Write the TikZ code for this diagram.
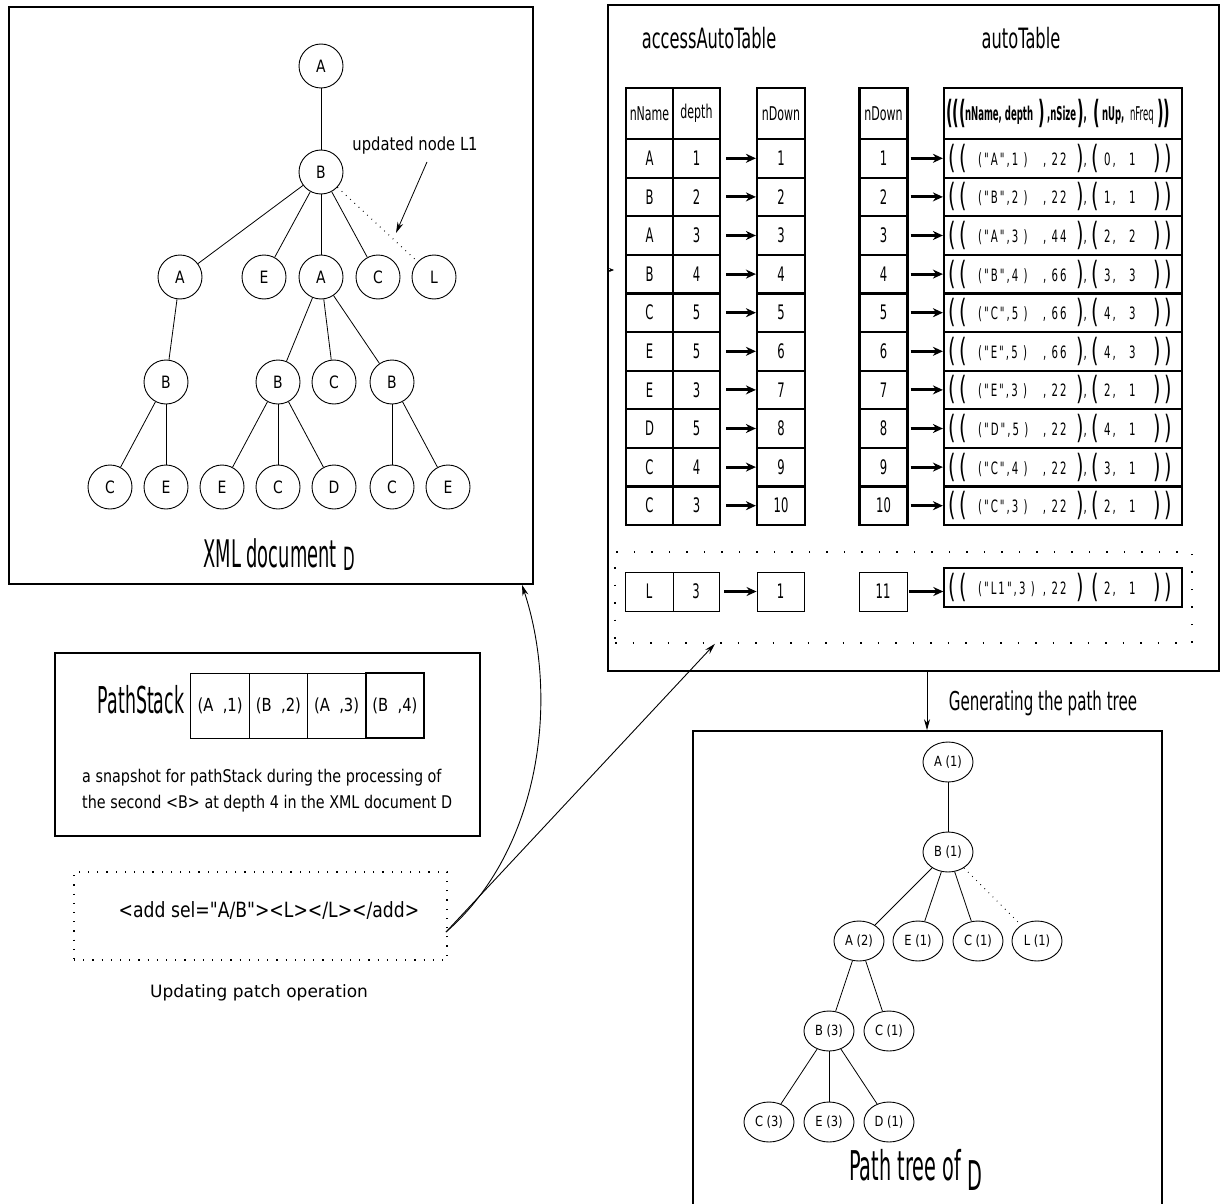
\documentclass[tikz,border=0pt]{standalone}
\usepackage{fontspec}
\setmainfont{DejaVu Sans}
\newfontfamily\cond[FakeStretch=0.82]{DejaVu Sans}
\newfontfamily\narr[FakeStretch=0.58]{DejaVu Sans}
\newfontfamily\tabf[FakeStretch=0.6,LetterSpace=12]{DejaVu Sans}
\newfontfamily\hdrf[FakeStretch=0.45]{DejaVu Sans}
\newfontfamily\vnarr[FakeStretch=0.47]{DejaVu Sans}
\usetikzlibrary{arrows.meta,shapes.geometric}
\newcommand\myfs[1]{\fontsize{#1}{#1}\selectfont}
\newcommand\atp[2]{\makebox[0pt][l]{\hspace*{#1pt}#2}}
\newcommand\bp[1]{\raisebox{-3pt}{\myfs{32}#1}}
\newcommand\atent[6]{\hbox to 236pt{\atp{3}{\bp{((}}\atp{33}{("#1",#2 )}\atp{98}{, #3}\atp{131}{\bp{)}#6}\atp{146}{\bp{(}}\atp{159}{#4,}\atp{184}{#5}\atp{208}{\bp{))}}\hfil}}
\newcommand\athead{\hbox to 236pt{\bfseries\atp{1}{\bp{(((}}\atp{20}{nName, depth}\atp{93}{\bp{)}}\atp{102}{,nSize}\atp{132}{\bp{)},}\atp{148}{\bp{(}}\atp{157}{nUp,}\atp{185}{{\mdseries nFreq}}\atp{212}{\bp{))}}\hfil}}
\begin{document}
\begin{tikzpicture}[x=1pt,y=-1pt,
  box/.style={draw,line width=1.6pt,inner sep=0pt},
  xn/.style={draw,circle,minimum size=44pt,inner sep=0pt,line width=0.9pt,font={\cond\myfs{17}}},
  pn/.style={draw,ellipse,minimum width=50pt,minimum height=40pt,inner sep=0pt,line width=0.9pt,font={\cond\myfs{14}}},
  edge/.style={line width=0.8pt},
  dotedge/.style={line width=1pt,dash pattern=on 0.8pt off 5pt},
  cell/.style={draw,line width=2.2pt,inner sep=0pt,minimum height=38.6pt,font={\narr\myfs{20}}},
  tcell/.style={draw,line width=0.9pt,inner sep=0pt,minimum height=39pt,font={\narr\myfs{20}}},
  tarr/.style={line width=3pt,-{Stealth[length=10pt,width=9pt]}},
  arr/.style={line width=0.9pt,-{Stealth[length=11pt,width=6pt]}},
  lbl/.style={inner sep=0pt}
]
\useasboundingbox (0,0) rectangle (1226,1204);

% ---------- XML document D ----------
\node[box,minimum width=524pt,minimum height=577pt] (xml) at (271,295.5) {};
\node[xn] (a0) at (321,66) {A};
\node[xn] (b0) at (321,172) {B};
\node[xn] (a1) at (180,277) {A};
\node[xn] (e1) at (264,277) {E};
\node[xn] (a2) at (321,277) {A};
\node[xn] (c1) at (378,277) {C};
\node[xn] (l1) at (434,277) {L};
\node[xn] (b1) at (166,382) {B};
\node[xn] (b2) at (278,382) {B};
\node[xn] (c2) at (334,382) {C};
\node[xn] (b3) at (392,382) {B};
\node[xn] (c3) at (110,487) {C};
\node[xn] (e3) at (166,487) {E};
\node[xn] (e4) at (222,487) {E};
\node[xn] (c4) at (278,487) {C};
\node[xn] (d4) at (334,487) {D};
\node[xn] (c5) at (392,487) {C};
\node[xn] (e5) at (448,487) {E};
\draw[edge] (a0) -- (b0);
\draw[edge] (b0) -- (a1);
\draw[edge] (b0) -- (e1);
\draw[edge] (b0) -- (a2);
\draw[edge] (b0) -- (c1);
\draw[dotedge] (b0) -- (l1);
\draw[edge] (a1) -- (b1);
\draw[edge] (a2) -- (b2);
\draw[edge] (a2) -- (c2);
\draw[edge] (a2) -- (b3);
\draw[edge] (b1) -- (c3);
\draw[edge] (b1) -- (e3);
\draw[edge] (b2) -- (e4);
\draw[edge] (b2) -- (c4);
\draw[edge] (b2) -- (d4);
\draw[edge] (b3) -- (c5);
\draw[edge] (b3) -- (e5);
\node[lbl,anchor=base] (upd) at (415,150) {\cond\myfs{18}updated node L1};
\coordinate (updtip) at (396,233);
\draw[arr,line width=0.8pt] ([xshift=12pt,yshift=-8pt]upd.south) -- (updtip);
\node[lbl,anchor=base] (xmlt) at (279,567) {\vnarr\myfs{38}XML document\,\raisebox{-3pt}{\myfs{32}D}};

% ---------- tables ----------
\node[box,minimum width=611pt,minimum height=666pt] (rbox) at (913.5,338) {};
\node[lbl,anchor=base] (t1) at (709,49) {\narr\myfs{28}accessAutoTable};
\node[lbl,anchor=base] (t2) at (1021,49) {\narr\myfs{28}autoTable};
\coordinate (tk) at (614,270);
\draw[line width=0.6pt,-{Stealth[length=5pt,width=4pt]}] (rbox.west |- tk) -- (tk);

\node[cell,minimum width=47pt,minimum height=51pt,font={\narr\myfs{19}}] (hnm) at (649.5,113.5) {nName};
\node[cell,minimum width=47pt,minimum height=51pt,font={\narr\myfs{19}}] (hdp) at (696.5,113.5) {depth};
\node[cell,minimum width=48pt,minimum height=51pt,font={\narr\myfs{19}}] (hnd) at (781,113.5) {nDown};
\node[cell,minimum width=48pt,minimum height=51pt,font={\narr\myfs{19}}] (hrn) at (883.5,113.5) {nDown};
\node[cell,minimum width=238pt,minimum height=51pt,font={\hdrf\myfs{19}}] (hat) at (1063,113.5) {\athead};

\foreach \va/\vb/\vc/\vd/\ve [count=\i] in {A/1/22/0/1,B/2/22/1/1,A/3/44/2/2,B/4/66/3/3,C/5/66/4/3,E/5/66/4/3,E/3/22/2/1,D/5/22/4/1,C/4/22/3/1,C/3/22/2/1}{
  \pgfmathsetmacro\yy{139+38.6*(\i-0.5)}
  \node[cell,minimum width=47pt] (nm\i) at (649.5,\yy) {\va};
  \node[cell,minimum width=47pt] (dp\i) at (696.5,\yy) {\vb};
  \node[cell,minimum width=48pt] (nd\i) at (781,\yy) {\i};
  \node[cell,minimum width=48pt] (rn\i) at (883.5,\yy) {\i};
  \node[cell,minimum width=238pt,font={\tabf\myfs{17}}] (at\i) at (1063,\yy) {\atent{\va}{\vb}{\vc}{\vd}{\ve}{,}};
  \draw[tarr,shorten <=5pt] (dp\i) -- (nd\i);
  \draw[tarr,shorten <=2pt] (rn\i) -- (at\i);
}

\node[draw,dash pattern=on 1.5pt off 16pt,line width=1.5pt,minimum width=577pt,minimum height=91pt] (dots) at (903.5,597.5) {};
\node[tcell,minimum width=48pt] (lnm) at (649,591.5) {L};
\node[tcell,minimum width=46pt] (ldp) at (696,591.5) {3};
\node[tcell,minimum width=47pt] (lnd) at (780.5,591.5) {1};
\node[tcell,minimum width=48pt] (lrn) at (883,591.5) {11};
\node[draw,line width=1.4pt,inner sep=0pt,minimum width=238pt,minimum height=39pt,font={\tabf\myfs{17}}] (lat) at (1063,587.5) {\atent{L1}{3}{22}{2}{1}{}};
\draw[tarr,shorten <=5pt] (ldp) -- (lnd);
\draw[tarr,shorten <=2pt] (lrn.east) -- (lrn.east -| lat.west);

% ---------- PathStack ----------
\node[box,line width=1.4pt,minimum width=425pt,minimum height=183pt] (psbox) at (267.5,744.5) {};
\node[lbl,anchor=base] (pstitle) at (141,713) {\vnarr\myfs{37}PathStack};
\node[draw,line width=1pt,minimum width=58.25pt,minimum height=65pt,inner sep=0pt,font={\cond\myfs{18}}] (stk1) at (220.1,705.5) {(A\ \ ,1)};
\node[draw,line width=1pt,minimum width=58.25pt,minimum height=65pt,inner sep=0pt,font={\cond\myfs{18}}] (stk2) at (278.4,705.5) {(B\ \ ,2)};
\node[draw,line width=1pt,minimum width=58.25pt,minimum height=65pt,inner sep=0pt,font={\cond\myfs{18}}] (stk3) at (336.6,705.5) {(A\ \ ,3)};
\node[draw,line width=1.8pt,minimum width=58.25pt,minimum height=65pt,inner sep=0pt,font={\cond\myfs{18}}] (stk4) at (394.9,705.5) {(B\ \ ,4)};
\node[lbl,anchor=base west] (snap1) at (82,782) {\cond\myfs{17.5}a snapshot for pathStack during the processing of};
\node[lbl,anchor=base west] (snap2) at (82,808) {\cond\myfs{17.5}the second <B> at depth 4 in the XML document D};

% ---------- patch ----------
\node[draw,dash pattern=on 1.2pt off 8pt,line width=1.2pt,minimum width=373pt,minimum height=88pt] (patch) at (260.5,916) {};
\node[lbl,anchor=base] (ptxt) at (269,917) {\cond\myfs{21}<add sel="A/B"><L></L></add>};
\node[lbl,anchor=base] (uptxt) at (259,997) {\myfs{17}Updating patch operation};
\coordinate (pst) at (446,932);
\coordinate (xin) at (522,0);
\coordinate (din) at (715,0);
\draw[arr] (pst) .. controls (540,850) and (560,700) .. (xml.south -| xin);
\draw[arr] (pst) -- (dots.south -| din);

% ---------- path tree ----------
\node[box,minimum width=469pt,minimum height=479pt] (ptbox) at (927.5,970.5) {};
\coordinate (g) at (927,0);
\draw[arr] (rbox.south -| g) -- (ptbox.north -| g);
\node[lbl,anchor=base] (gen) at (1043,710) {\narr\myfs{26}Generating the path tree};
\node[pn] (pa1) at (948,762) {A (1)};
\node[pn] (pb1) at (948,852) {B (1)};
\node[pn] (pa2) at (859,941) {A (2)};
\node[pn] (pe1) at (918,941) {E (1)};
\node[pn] (pc1) at (978,941) {C (1)};
\node[pn] (pl1) at (1037,941) {L (1)};
\node[pn] (pb3) at (829,1031) {B (3)};
\node[pn] (pc2) at (889,1031) {C (1)};
\node[pn] (pc3) at (769,1122) {C (3)};
\node[pn] (pe3) at (829,1122) {E (3)};
\node[pn] (pd1) at (889,1122) {D (1)};
\draw[edge] (pa1) -- (pb1);
\draw[edge] (pb1) -- (pa2);
\draw[edge] (pb1) -- (pe1);
\draw[edge] (pb1) -- (pc1);
\draw[dotedge] (pb1) -- (pl1);
\draw[edge] (pa2) -- (pb3);
\draw[edge] (pa2) -- (pc2);
\draw[edge] (pb3) -- (pc3);
\draw[edge] (pb3) -- (pe3);
\draw[edge] (pb3) -- (pd1);
\node[lbl,anchor=base] (ptt) at (916,1180) {\vnarr\myfs{41}Path tree of\,\raisebox{-10pt}{D}};
\end{tikzpicture}
\end{document}
